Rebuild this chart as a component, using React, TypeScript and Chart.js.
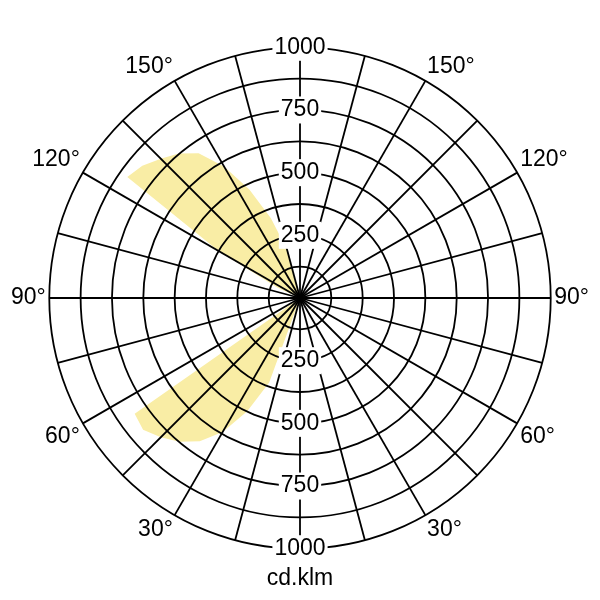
import React, { useEffect, useRef } from 'react';
import { Chart, registerables } from 'chart.js';

Chart.register(...registerables);

const FONT = "'Liberation Sans', Arial, Helvetica, sans-serif";
const FONT_SIZE = 23;

// Photometric angle gamma (0° = nadir at the bottom, 180° = zenith at the top), 5° steps
const gammaAngles = [
  0, 5, 10, 15, 20, 25, 30, 35, 40, 45, 50, 55, 60, 65, 70, 75, 80, 85, 90,
  95, 100, 105, 110, 115, 120, 125, 130, 135, 140, 145, 150, 155, 160, 165, 170, 175, 180,
];

// Luminous intensity (cd/klm) on the left half-plane, one value per gamma angle
const planeLeft = [
  0, 0, 0, 0, 359, 498, 617, 697, 749, 785, 817, 805, 0, 0, 0, 0, 0, 0, 0,
  0, 0, 0, 0, 100, 378, 841, 821, 785, 753, 705, 606, 478, 339, 199, 0, 0, 0,
];

// Luminous intensity (cd/klm) on the right half-plane
const planeRight = [
  0, 0, 0, 0, 0, 0, 0, 0, 0, 0, 0, 0, 0, 0, 0, 0, 0, 0, 0,
  0, 0, 0, 0, 0, 0, 0, 0, 0, 0, 0, 0, 0, 0, 0, 0, 0, 0,
];

const angleLabelValues = [30, 60, 90, 120, 150];
const intensityLabels = [250, 500, 750, 1000];
const ringStep = 125;
const intensityMax = 1000;
const spokeStep = 15;
const unitLabel = 'cd.klm';

const STEP = gammaAngles[1] - gammaAngles[0];

// Build the radar categories: index i sits at clockwise angle 5*i from the top
const radarLabels: string[] = [];
const radarValues: number[] = [];
const radarAngles: number[] = [];
for (let a = 0; a < 360; a += STEP) {
  const right = a <= 180;
  const gamma = right ? 180 - a : a - 180;
  const idx = gammaAngles.indexOf(gamma);
  radarAngles.push(a);
  radarLabels.push(angleLabelValues.includes(gamma) ? `${gamma}°` : '');
  radarValues.push(right ? planeRight[idx] : planeLeft[idx]);
}

const bottomLabelsPlugin = {
  id: 'bottomLabels',
  afterDraw(chart: any) {
    const s = chart.scales.r;
    const ctx = chart.ctx;
    ctx.save();
    ctx.font = `${FONT_SIZE}px ${FONT}`;
    ctx.textAlign = 'center';
    ctx.textBaseline = 'middle';
    intensityLabels.forEach((v) => {
      const d = s.getDistanceFromCenterForValue(v);
      const y = s.yCenter + d;
      const t = String(v);
      const w = ctx.measureText(t).width;
      ctx.fillStyle = '#ffffff';
      ctx.fillRect(s.xCenter - w / 2 - 2, y - FONT_SIZE / 2 - 2, w + 4, FONT_SIZE + 4);
      ctx.fillStyle = '#000000';
      ctx.fillText(t, s.xCenter, y);
    });
    ctx.fillStyle = '#000000';
    ctx.fillText(unitLabel, s.xCenter, s.yCenter + s.drawingArea + 30);
    ctx.restore();
  },
};

export default function App() {
  const ref = useRef<HTMLCanvasElement>(null);

  useEffect(() => {
    if (!ref.current) return;
    const chart = new Chart(ref.current, {
      type: 'radar',
      data: {
        labels: radarLabels,
        datasets: [
          {
            data: radarValues,
            backgroundColor: 'rgb(249, 237, 165)',
            borderWidth: 0,
            pointRadius: 0,
            pointHoverRadius: 0,
            fill: 'origin',
          },
        ],
      },
      options: {
        animation: false,
        responsive: true,
        maintainAspectRatio: false,
        layout: { padding: { left: 11, right: 11, top: 0, bottom: 4 } },
        plugins: {
          legend: { display: false },
          tooltip: { enabled: false },
        },
        scales: {
          r: {
            min: 0,
            max: intensityMax,
            beginAtZero: true,
            angleLines: {
              display: true,
              color: '#000000',
              lineWidth: (c: any) => (radarAngles[c.index] % spokeStep === 0 ? 1.8 : 0),
            },
            grid: {
              circular: true,
              color: '#000000',
              lineWidth: 1.8,
              z: 1,
            },
            pointLabels: {
              display: true,
              color: '#000000',
              padding: -10,
              font: { family: FONT, size: FONT_SIZE, lineHeight: 1 },
            },
            ticks: {
              z: 2,
              stepSize: ringStep,
              color: '#000000',
              font: { family: FONT, size: FONT_SIZE, lineHeight: 1 },
              backdropPadding: 2,
              showLabelBackdrop: (c: any) => intensityLabels.includes(c.tick?.value),
              backdropColor: '#ffffff',
              callback: (v: any) => (intensityLabels.includes(v) ? String(v) : ''),
            },
          },
        },
      },
      plugins: [bottomLabelsPlugin],
    });
    return () => chart.destroy();
  }, []);

  return (
    <div style={{ position: 'fixed', left: 0, top: 0, width: 600, height: 600, background: '#fff' }}>
      <canvas ref={ref} />
    </div>
  );
}
